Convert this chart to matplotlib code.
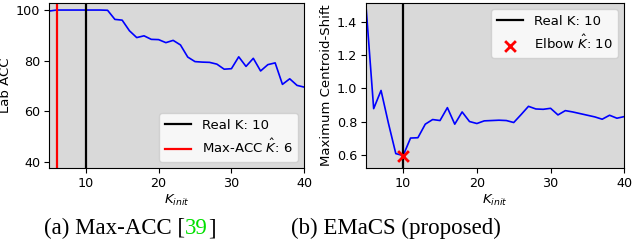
import numpy as np
import matplotlib.pyplot as plt

# K_init values shared by both panels
k_init = np.arange(5, 41)

# panel (a): Lab ACC per K_init (Max-ACC)
lab_acc = [99.6, 100, 100, 100, 100, 100, 100, 100, 99.9,
           96.3, 96.0, 91.8, 89.1, 89.8, 88.4, 88.3, 87.1, 88.0,
           86.2, 81.4, 79.6, 79.4, 79.3, 78.6, 76.6, 76.8, 81.5,
           77.7, 80.9, 75.9, 78.4, 79.1, 70.6, 72.8, 70.2, 69.5]

# panel (b): maximum centroid shift per K_init (EMaCS)
max_shift = [1.474, 0.878, 0.988, 0.79, 0.606, 0.594, 0.70, 0.702, 0.784,
             0.812, 0.806, 0.884, 0.784, 0.858, 0.80, 0.788, 0.804, 0.806,
             0.808, 0.806, 0.794, 0.842, 0.892, 0.876, 0.874, 0.880, 0.840,
             0.866, 0.858, 0.848, 0.838, 0.828, 0.814, 0.838, 0.820, 0.830]

real_k = 10
maxacc_k = 6
elbow_k = 10
elbow_val = 0.59

bg = '#d9d9d9'
fs = 9.5
tick_fs = 9.2

fig = plt.figure(figsize=(6.34, 2.48), dpi=100)
ax1 = fig.add_axes([49.3 / 634, 1 - 168.3 / 248, 255 / 634, 165.6 / 248])
ax2 = fig.add_axes([366.3 / 634, 1 - 168.3 / 248, 258 / 634, 165.6 / 248])

# (a) Max-ACC
ax1.set_facecolor(bg)
ax1.plot(k_init, lab_acc, color='blue', lw=1.2)
ax1.axvline(real_k, color='black', lw=1.6, label='Real K: 10')
ax1.axvline(maxacc_k, color='red', lw=1.6, label=r'Max-ACC $\hat{K}$: 6')
ax1.set_xlim(5, 40)
ax1.set_ylim(37.4, 102.9)
ax1.set_xticks([10, 20, 30, 40])
ax1.set_yticks([40, 60, 80, 100])
ax1.set_ylabel('Lab ACC', fontsize=fs, labelpad=3)
ax1.set_xlabel(r'$K_{init}$', fontsize=fs, labelpad=2)
ax1.legend(loc='lower right', fontsize=fs)

# (b) EMaCS
ax2.set_facecolor(bg)
ax2.plot(k_init, max_shift, color='blue', lw=1.2)
ax2.axvline(real_k, color='black', lw=1.6, label='Real K: 10')
ax2.scatter([elbow_k], [elbow_val], marker='x', color='red', s=60, lw=2,
            zorder=5, label=r'Elbow $\hat{K}$: 10')
ax2.set_xlim(5, 40)
ax2.set_ylim(0.517, 1.519)
ax2.set_xticks([10, 20, 30, 40])
ax2.set_yticks([0.6, 0.8, 1.0, 1.2, 1.4])
ax2.set_ylabel('Maximum Centroid-Shift', fontsize=fs, labelpad=3)
ax2.set_xlabel(r'$K_{init}$', fontsize=fs, labelpad=2)
ax2.legend(loc='upper right', fontsize=fs)

for ax in (ax1, ax2):
    ax.tick_params(labelsize=tick_fs, pad=3)

# captions below the panels, citation number in green
serif = dict(family='Liberation Serif', fontsize=16.5, va='baseline')
y_cap = 1 - 234 / 248
fig.canvas.draw()
r = fig.canvas.get_renderer()
x = 44
for part, col in [('(a) Max-ACC [', 'black'), ('39', '#00e000'), (']', 'black')]:
    t = fig.text(x / 634, y_cap, part, color=col, ha='left', **serif)
    x += t.get_window_extent(r).width
fig.text(396 / 634, y_cap, '(b) EMaCS (proposed)', ha='center', **serif)

fig.savefig('out.png', dpi=100)
